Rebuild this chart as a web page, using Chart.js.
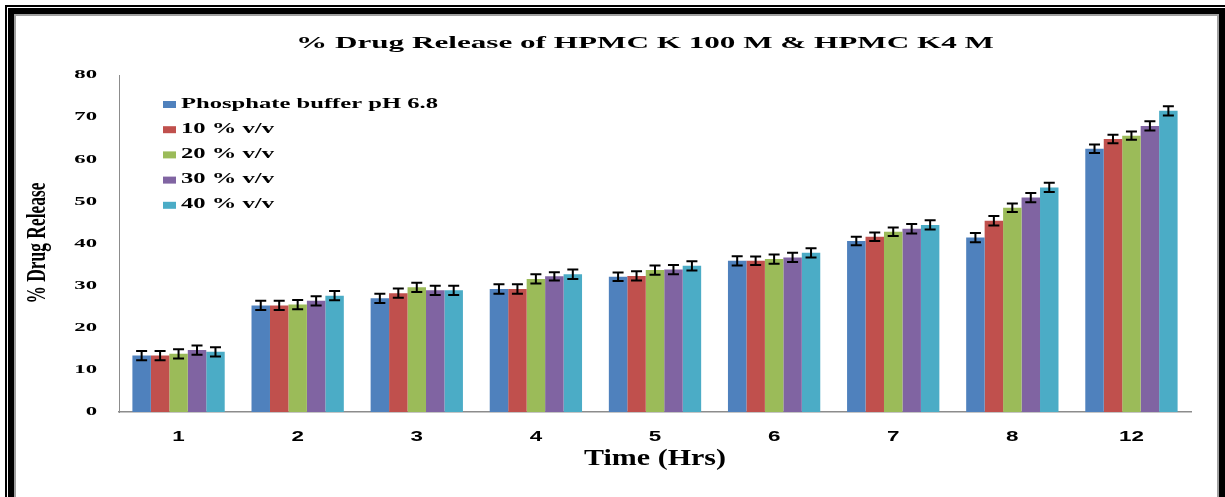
<!DOCTYPE html>
<html>
<head>
<meta charset="utf-8">
<script src="https://cdn.jsdelivr.net/npm/chart.js@4"></script>
<style>
  html, body { margin: 0; padding: 0; background: #fff; overflow: hidden; }
  #wrap { position: relative; width: 1225px; height: 497px; overflow: hidden; }
  #chart { position: absolute; left: 0; top: 0; }
  .frame { position: absolute; box-sizing: border-box; pointer-events: none; }
</style>
</head>
<body>
<div id="wrap">
  <canvas id="chart" width="1225" height="497"></canvas>
  <div class="frame" style="left:5px;top:5px;width:1240px;height:600px;border:2px solid #000;"></div>
  <div class="frame" style="left:8px;top:8px;width:1217px;height:600px;border:6px solid #000;"></div>
  <div class="frame" style="left:14px;top:14px;width:1205px;height:600px;border:2px solid #a0a0a0;"></div>
</div>
<script>
// Données
const hours = ['1', '2', '3', '4', '5', '6', '7', '8', '12'];
const seriesNames = ['Phosphate buffer pH 6.8', '10 % v/v', '20 % v/v', '30 % v/v', '40 % v/v'];
const phosphate = [13.4, 25.3, 27.0, 29.2, 32.1, 35.9, 40.6, 41.4, 62.5];
const vv10 = [13.4, 25.3, 28.2, 29.2, 32.3, 35.9, 41.6, 45.4, 64.8];
const vv20 = [13.8, 25.5, 29.6, 31.6, 33.7, 36.3, 42.8, 48.5, 65.6];
const vv30 = [14.7, 26.4, 28.9, 32.2, 33.8, 36.7, 43.5, 50.9, 67.9];
const vv40 = [14.3, 27.6, 28.9, 32.7, 34.7, 37.8, 44.4, 53.3, 71.5];
const errPhosphate = [1.1, 1.1, 1.1, 1.1, 1.0, 1.1, 1.0, 1.1, 1.0];
const err10 = [1.1, 1.1, 1.1, 1.1, 1.1, 1.0, 1.0, 1.1, 1.0];
const err20 = [1.1, 1.1, 1.1, 1.1, 1.1, 1.1, 1.0, 1.0, 1.0];
const err30 = [1.1, 1.1, 1.1, 1.0, 1.1, 1.1, 1.1, 1.1, 1.1];
const err40 = [1.1, 1.1, 1.1, 1.1, 1.1, 1.1, 1.1, 1.1, 1.1];
const yTicks = [0, 10, 20, 30, 40, 50, 60, 70, 80];

const colors = ['#4F81BD', '#C0504D', '#9BBB59', '#8064A2', '#4BACC6'];
const values = [phosphate, vv10, vv20, vv30, vv40];
const errors = [errPhosphate, err10, err20, err30, err40];

// Texte étiré horizontalement (le graphique source est élargi)
function stretchText(ctx, text, x, y, font, sx, align) {
  ctx.save();
  ctx.font = font;
  ctx.fillStyle = '#000';
  ctx.textBaseline = 'middle';
  ctx.textAlign = align;
  ctx.translate(x, y);
  ctx.scale(sx, 1);
  ctx.fillText(text, 0, 0);
  ctx.restore();
}

function fitScale(ctx, text, font, width) {
  ctx.save();
  ctx.font = font;
  const w = ctx.measureText(text).width;
  ctx.restore();
  return width / w;
}

const errorBars = {
  id: 'errorBars',
  afterDatasetsDraw(chart) {
    const ctx = chart.ctx;
    const yScale = chart.scales.y;
    ctx.save();
    ctx.strokeStyle = '#000';
    ctx.lineWidth = 2;
    chart.data.datasets.forEach((ds, d) => {
      const meta = chart.getDatasetMeta(d);
      meta.data.forEach((bar, i) => {
        const v = ds.data[i];
        const e = errors[d][i];
        const yt = yScale.getPixelForValue(v + e);
        const yb = yScale.getPixelForValue(v - e);
        ctx.beginPath();
        ctx.moveTo(bar.x, yt); ctx.lineTo(bar.x, yb);
        ctx.moveTo(bar.x - 5.5, yt); ctx.lineTo(bar.x + 5.5, yt);
        ctx.moveTo(bar.x - 5.5, yb); ctx.lineTo(bar.x + 5.5, yb);
        ctx.stroke();
      });
    });
    ctx.restore();
  }
};

const textLayer = {
  id: 'textLayer',
  afterDraw(chart) {
    const ctx = chart.ctx;
    const xScale = chart.scales.x;
    const yScale = chart.scales.y;

    // Titre
    const titleFont = 'bold 16px "Liberation Serif"';
    const title = '% Drug Release of HPMC K 100 M & HPMC K4 M';
    stretchText(ctx, title, 645, 44, titleFont, fitScale(ctx, title, titleFont, 698), 'center');

    // Titre axe X
    const axFont = 'bold 23px "Liberation Serif"';
    stretchText(ctx, 'Time (Hrs)', 655, 459, axFont, fitScale(ctx, 'Time (Hrs)', axFont, 142), 'center');

    // Titre axe Y (vertical)
    const yFont = 'bold 27px "Liberation Serif"';
    ctx.save();
    ctx.translate(38, 243);
    ctx.rotate(-Math.PI / 2);
    stretchText(ctx, '% Drug Release', 0, 0, yFont, fitScale(ctx, '% Drug Release', yFont, 121), 'center');
    ctx.restore();

    // Graduations
    yTicks.forEach(v => {
      stretchText(ctx, String(v), 97, yScale.getPixelForValue(v), 'bold 13px "Liberation Serif"', 1.75, 'right');
    });
    hours.forEach((h, i) => {
      stretchText(ctx, h, xScale.getPixelForValue(i), 437, 'bold 14px "Liberation Sans"', 1.6, 'center');
    });

    // Légende
    const legFont = 'bold 14px "Liberation Serif"';
    const legScale = fitScale(ctx, seriesNames[0], legFont, 257);
    seriesNames.forEach((name, i) => {
      const y = 104 + i * 25.2;
      ctx.fillStyle = colors[i];
      ctx.fillRect(163, y - 3, 13, 7);
      stretchText(ctx, name, 181, y, legFont, legScale, 'left');
    });
  }
};

new Chart(document.getElementById('chart'), {
  type: 'bar',
  data: {
    labels: hours,
    datasets: values.map((data, i) => ({
      label: seriesNames[i],
      data: data,
      backgroundColor: colors[i],
      borderWidth: 0,
      categoryPercentage: 0.775,
      barPercentage: 1.0
    }))
  },
  options: {
    responsive: false,
    animation: false,
    devicePixelRatio: 1,
    layout: { padding: { left: 119, top: 75, right: 34, bottom: 85 } },
    plugins: {
      legend: { display: false },
      title: { display: false },
      tooltip: { enabled: false }
    },
    scales: {
      x: {
        grid: { display: false, drawTicks: false },
        ticks: { display: false },
        border: { color: '#8c8c8c', width: 1.5 }
      },
      y: {
        min: 0,
        max: 80,
        ticks: { display: false, stepSize: 10 },
        grid: { display: false, drawTicks: false },
        border: { color: '#8c8c8c', width: 1 }
      }
    }
  },
  plugins: [errorBars, textLayer]
});
</script>
</body>
</html>
